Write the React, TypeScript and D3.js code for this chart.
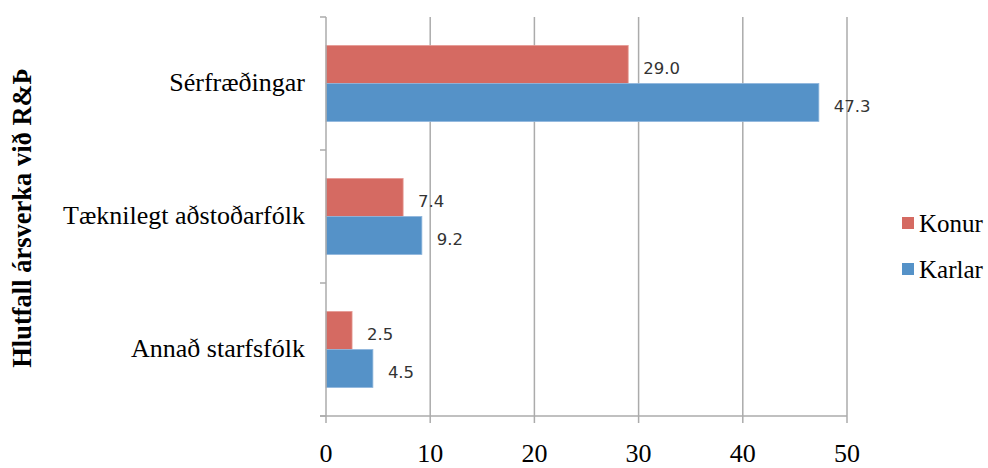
import React, { useEffect, useRef } from "react";
import * as d3 from "d3";

const categories = ["Sérfræðingar", "Tæknilegt aðstoðarfólk", "Annað starfsfólk"];
const seriesNames = ["Konur", "Karlar"];
const konur = [29.0, 7.4, 2.5];
const karlar = [47.3, 9.2, 4.5];
const xTicks = [0, 10, 20, 30, 40, 50];
const yTitle = "Hlutfall ársverka við R&Þ";

const colors = ["#D56A62", "#5592C8"];

const App = () => {
  const ref = useRef<SVGSVGElement>(null);

  useEffect(() => {
    const w = 988;
    const h = 468;
    const svg = d3.select(ref.current);
    svg.selectAll("*").remove();

    const left = 326;
    const right = 847;
    const top = 17;
    const bottom = 416;
    const serif = "'Liberation Serif', 'Times New Roman', serif";
    const sans = "'DejaVu Sans', Verdana, sans-serif";

    const x = d3.scaleLinear().domain([0, 50]).range([left, right]);
    const y = d3.scaleBand<string>().domain(categories).range([top, bottom]);
    const inner = d3.scaleBand<string>().domain(seriesNames)
      .range([0, y.bandwidth()]).paddingOuter(0.75);

    // grid lines
    svg.append("g")
      .selectAll("line")
      .data(xTicks.slice(1))
      .join("line")
      .attr("x1", d => x(d)).attr("x2", d => x(d))
      .attr("y1", top).attr("y2", bottom + 7)
      .attr("stroke", "#ababab").attr("stroke-width", 1.5);

    // bars
    const series = [konur, karlar];
    series.forEach((vals, si) => {
      const g = svg.append("g");
      g.selectAll("rect")
        .data(vals)
        .join("rect")
        .attr("x", x(0))
        .attr("y", (d, i) => (y(categories[i]) as number) + (inner(seriesNames[si]) as number))
        .attr("width", d => x(d) - x(0))
        .attr("height", inner.bandwidth())
        .attr("fill", colors[si])
        .attr("stroke", si === 0 ? "#e59a93" : "#8fb6dc")
        .attr("stroke-width", 0.8);
      g.selectAll("text")
        .data(vals)
        .join("text")
        .attr("x", d => x(d) + 15)
        .attr("y", (d, i) => (y(categories[i]) as number) + (inner(seriesNames[si]) as number) + inner.bandwidth() / 2)
        .attr("dy", "0.55em")
        .attr("font-family", sans)
        .attr("font-size", 16.5)
        .attr("fill", "#333")
        .text(d => d.toFixed(1));
    });

    // y axis
    svg.append("line")
      .attr("x1", left).attr("x2", left)
      .attr("y1", top).attr("y2", bottom)
      .attr("stroke", "#ababab").attr("stroke-width", 1.5);
    const yEdges = [top, ...categories.map(c => (y(c) as number) + y.bandwidth())];
    svg.append("g").selectAll("line")
      .data(yEdges)
      .join("line")
      .attr("x1", left - 6).attr("x2", left)
      .attr("y1", d => d).attr("y2", d => d)
      .attr("stroke", "#ababab").attr("stroke-width", 1.5);

    // x axis
    svg.append("line")
      .attr("x1", left - 6).attr("x2", right)
      .attr("y1", bottom).attr("y2", bottom)
      .attr("stroke", "#ababab").attr("stroke-width", 1.5);
    svg.append("line")
      .attr("x1", left).attr("x2", left)
      .attr("y1", bottom).attr("y2", bottom + 7)
      .attr("stroke", "#ababab").attr("stroke-width", 1.5);

    svg.append("g").selectAll("text")
      .data(xTicks)
      .join("text")
      .attr("x", d => x(d))
      .attr("y", 462)
      .attr("text-anchor", "middle")
      .attr("font-family", serif)
      .attr("font-size", 26)
      .attr("fill", "#000")
      .text(d => d);

    // category labels
    svg.append("g").selectAll("text")
      .data(categories)
      .join("text")
      .attr("x", 305)
      .attr("y", d => (y(d) as number) + y.bandwidth() / 2)
      .attr("dy", "0.3em")
      .attr("text-anchor", "end")
      .attr("font-family", serif)
      .attr("font-size", 26)
      .attr("fill", "#000")
      .text(d => d);

    // y title
    svg.append("text")
      .attr("transform", `translate(31,218) rotate(-90)`)
      .attr("text-anchor", "middle")
      .attr("font-family", serif)
      .attr("font-weight", "bold")
      .attr("font-size", 26.5)
      .attr("fill", "#000")
      .text(yTitle);

    // legend
    const legend = svg.append("g");
    seriesNames.forEach((s, i) => {
      const ly = 224 + i * 46;
      legend.append("rect")
        .attr("x", 902).attr("y", ly - 7)
        .attr("width", 12).attr("height", 12)
        .attr("fill", colors[i]);
      legend.append("text")
        .attr("x", 919).attr("y", ly)
        .attr("dy", "0.33em")
        .attr("font-family", serif)
        .attr("font-size", 25)
        .attr("fill", "#000")
        .text(s);
    });

    svg.attr("width", w).attr("height", h);
  }, []);

  return (
    <div style={{ position: "absolute", left: 0, top: 0 }}>
      <svg ref={ref} width={988} height={468} style={{ display: "block", background: "#fff" }} />
    </div>
  );
};

export default App;
